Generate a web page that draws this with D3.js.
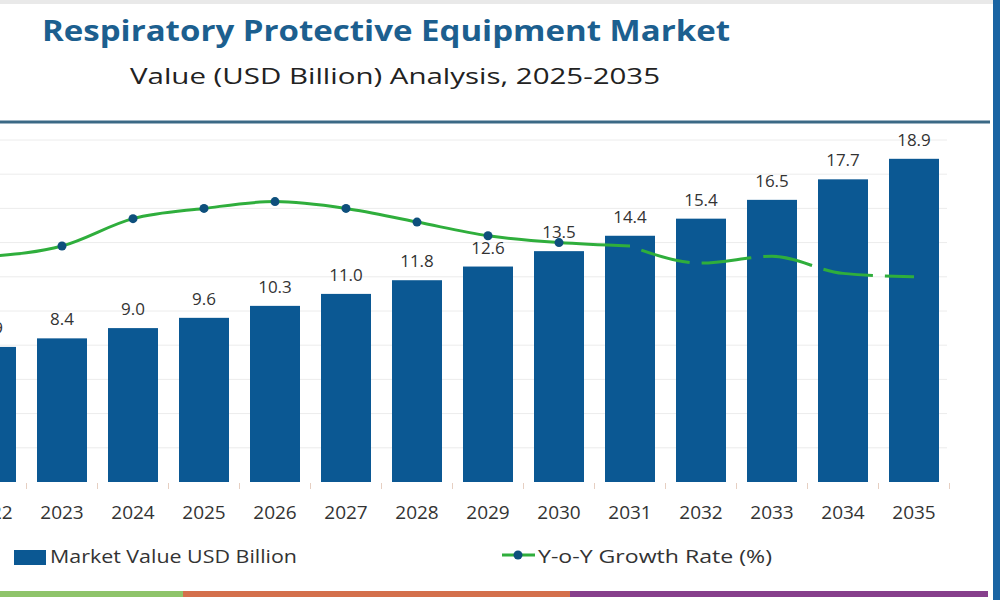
<!DOCTYPE html>
<html>
<head>
<meta charset="utf-8">
<script src="https://cdn.jsdelivr.net/npm/d3@7"></script>
<style>
  body { margin: 0; background: #fff; }
  svg { display: block; font-family: "Open Sans", sans-serif; }
</style>
</head>
<body>
<div id="chart"></div>
<script>
// data
var years = ["2022", "2023", "2024", "2025", "2026", "2027", "2028", "2029", "2030", "2031", "2032", "2033", "2034", "2035"];
var marketValue = [7.9, 8.4, 9.0, 9.6, 10.3, 11.0, 11.8, 12.6, 13.5, 14.4, 15.4, 16.5, 17.7, 18.9];
var growthRate = [6.6, 6.9, 7.7, 8.0, 8.2, 8.0, 7.6, 7.2, 7.0, 6.9, 6.4, 6.6, 6.1, 6.0];
var gridTicks = [2, 4, 6, 8, 10, 12, 14, 16, 18, 20];
var lastSolid = "2031";   // line is solid up to here, dashed after
var lastDot = "2030";     // markers shown up to here

var width = 1000, height = 600;
var baseY = 482, topY = 140;

var svg = d3.select("#chart")
  .append("svg")
    .attr("width", width)
    .attr("height", height);

// frame bits
svg.append("rect").attr("x", 0).attr("y", 0).attr("width", width).attr("height", 4).attr("fill", "#e9e9e9");
svg.append("rect").attr("x", 993).attr("y", 0).attr("width", 7).attr("height", height).attr("fill", "#1a64a3");
svg.append("line")
  .attr("x1", 0).attr("x2", 990).attr("y1", 122).attr("y2", 122)
  .attr("stroke", "#3b6985").attr("stroke-width", 3);

// titles
svg.append("text")
  .attr("x", 42).attr("y", 41)
  .attr("fill", "#1c5f8f")
  .style("font-size", "29px").style("font-weight", 700)
  .attr("textLength", 688).attr("lengthAdjust", "spacingAndGlyphs")
  .text("Respiratory Protective Equipment Market");
svg.append("text")
  .attr("x", 130).attr("y", 84)
  .attr("fill", "#222")
  .style("font-size", "22px")
  .attr("textLength", 530).attr("lengthAdjust", "spacingAndGlyphs")
  .text("Value (USD Billion) Analysis, 2025-2035");

// scales
var x = d3.scaleBand()
  .domain(years)
  .range([-44.5, 949.5])
  .paddingInner(0.296)
  .paddingOuter(0.148);

var y = d3.scaleLinear()
  .domain([0, 20])
  .range([baseY, topY]);

var y2 = d3.scaleLinear()
  .domain([0, 10])
  .range([baseY, topY]);

// gridlines
svg.append("g")
  .selectAll("line")
  .data(gridTicks)
  .enter()
  .append("line")
    .attr("x1", 0).attr("x2", 947)
    .attr("y1", function(d) { return y(d); })
    .attr("y2", function(d) { return y(d); })
    .attr("stroke", "#ececec")
    .attr("stroke-width", 1);

// X axis
var xAxis = svg.append("g")
  .attr("transform", "translate(0," + baseY + ")")
  .call(d3.axisBottom(x).tickSize(0).tickPadding(24));
xAxis.select(".domain").remove();
xAxis.selectAll("text")
  .attr("fill", "#333")
  .style("font-size", "19px")
  .style("font-family", "'Open Sans', sans-serif");

// small separators between categories
svg.append("g")
  .selectAll("line")
  .data(years)
  .enter()
  .append("line")
    .attr("x1", function(d) { return x(d) + x.bandwidth() + x.step() * x.paddingInner() / 2; })
    .attr("x2", function(d) { return x(d) + x.bandwidth() + x.step() * x.paddingInner() / 2; })
    .attr("y1", baseY + 1).attr("y2", baseY + 7)
    .attr("stroke", "#e6cfc2")
    .attr("stroke-width", 1);

var rows = years.map(function(d, i) { return {year: d, value: marketValue[i], growth: growthRate[i]}; });

// bars
svg.append("g")
  .selectAll("rect")
  .data(rows)
  .enter()
  .append("rect")
    .attr("x", function(d) { return x(d.year); })
    .attr("y", function(d) { return y(d.value); })
    .attr("width", x.bandwidth())
    .attr("height", function(d) { return baseY - y(d.value); })
    .attr("fill", "#0b5893");

// bar labels
svg.append("g")
  .selectAll("text")
  .data(rows)
  .enter()
  .append("text")
    .attr("x", function(d) { return x(d.year) + x.bandwidth() / 2; })
    .attr("y", function(d) { return y(d.value) - 13; })
    .attr("text-anchor", "middle")
    .attr("fill", "#333")
    .style("font-size", "17px")
    .text(function(d) { return d3.format(".1f")(d.value); });

// growth line
var line = d3.line()
  .x(function(d) { return x(d.year) + x.bandwidth() / 2; })
  .y(function(d) { return y2(d.growth); })
  .curve(d3.curveMonotoneX);

var cut = years.indexOf(lastSolid);
svg.append("path")
  .datum(rows.slice(0, cut + 1))
  .attr("d", line)
  .attr("fill", "none")
  .attr("stroke", "#2fae3c")
  .attr("stroke-width", 3);
svg.append("path")
  .datum(rows.slice(cut))
  .attr("d", line)
  .attr("fill", "none")
  .attr("stroke", "#2fae3c")
  .attr("stroke-width", 3)
  .attr("stroke-dasharray", "0,12,50,12,50,12,50,12,50,12,50");

svg.append("g")
  .selectAll("circle")
  .data(rows.slice(0, years.indexOf(lastDot) + 1))
  .enter()
  .append("circle")
    .attr("cx", function(d) { return x(d.year) + x.bandwidth() / 2; })
    .attr("cy", function(d) { return y2(d.growth); })
    .attr("r", 4.5)
    .attr("fill", "#0e4f7c");

// legend
svg.append("rect").attr("x", 14).attr("y", 550).attr("width", 32).attr("height", 15).attr("fill", "#0b5893");
svg.append("text")
  .attr("x", 50).attr("y", 563)
  .attr("fill", "#333").style("font-size", "18px")
  .attr("textLength", 247).attr("lengthAdjust", "spacingAndGlyphs")
  .text("Market Value USD Billion");
svg.append("line")
  .attr("x1", 502).attr("x2", 535).attr("y1", 555).attr("y2", 555)
  .attr("stroke", "#2fae3c").attr("stroke-width", 3);
svg.append("circle").attr("cx", 518).attr("cy", 555).attr("r", 4.5).attr("fill", "#0e4f7c");
svg.append("text")
  .attr("x", 538).attr("y", 563)
  .attr("fill", "#333").style("font-size", "18px")
  .attr("textLength", 234).attr("lengthAdjust", "spacingAndGlyphs")
  .text("Y-o-Y Growth Rate (%)");

// bottom stripe
var stripes = [[0, 183, "#8fc46a"], [183, 570, "#d4704c"], [570, 988, "#873f8c"]];
svg.append("g")
  .selectAll("rect")
  .data(stripes)
  .enter()
  .append("rect")
    .attr("x", function(d) { return d[0]; })
    .attr("width", function(d) { return d[1] - d[0]; })
    .attr("y", 591).attr("height", 6)
    .attr("fill", function(d) { return d[2]; });
</script>
</body>
</html>
